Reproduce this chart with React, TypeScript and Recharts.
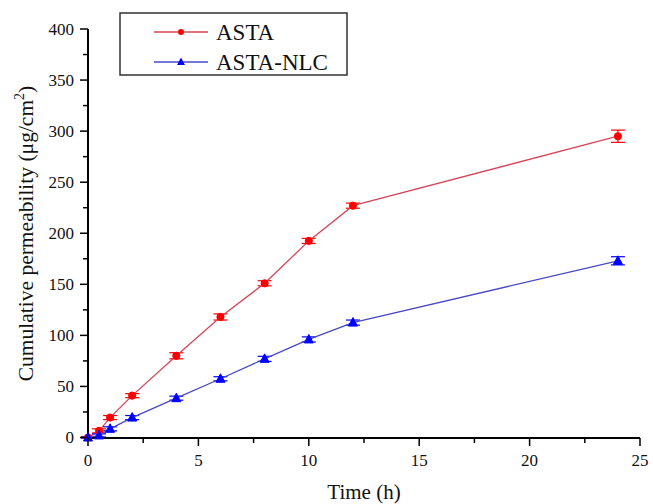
import React from "react";
import { LineChart, Line, XAxis, YAxis, ErrorBar, Legend } from "recharts";

const times = [0, 0.5, 1, 2, 4, 6, 8, 10, 12, 24];
const astaValues = [0, 6.5, 19.5, 41, 80, 118, 151, 192.5, 227, 295];
const astaErrors = [0.5, 2, 2, 2, 3, 3, 2.5, 2.5, 2.5, 6];
const nlcValues = [0, 2, 8.5, 19.5, 38.5, 57.5, 77, 96, 112.5, 173];
const nlcErrors = [0.5, 1.5, 2, 2, 2, 2, 2.5, 2.5, 2.5, 4];
const seriesNames = ["ASTA", "ASTA-NLC"];
const xTicks = [0, 2.5, 5, 7.5, 10, 12.5, 15, 17.5, 20, 22.5, 25];
const yTicks = [0, 25, 50, 75, 100, 125, 150, 175, 200, 225, 250, 275, 300, 325, 350, 375, 400];

const data = times.map((t, i) => ({
  t,
  asta: astaValues[i],
  astaErr: astaErrors[i],
  nlc: nlcValues[i],
  nlcErr: nlcErrors[i],
}));

const RED_LINE = "#d6455a";
const RED = "#ff0000";
const BLUE_LINE = "#4848c8";
const BLUE = "#0000ff";
const SERIF = '"Liberation Serif", "Times New Roman", serif';

const XTick = (props: any) => {
  const { x, y, payload } = props;
  const major = payload.value % 5 === 0;
  return (
    <g>
      <line x1={x} x2={x} y1={y} y2={y + (major ? 8 : 5)} stroke="#000" strokeWidth={1.5} />
      {major && (
        <text x={x} y={y + 28} textAnchor="middle" fontFamily={SERIF} fontSize={17} fill="#111">
          {payload.value}
        </text>
      )}
    </g>
  );
};

const YTick = (props: any) => {
  const { x, y, payload } = props;
  const major = payload.value % 50 === 0;
  return (
    <g>
      <line x1={x} x2={x - (major ? 8 : 5)} y1={y} y2={y} stroke="#000" strokeWidth={1.5} />
      {major && (
        <text x={x - 14} y={y + 6} textAnchor="end" fontFamily={SERIF} fontSize={17} fill="#111">
          {payload.value}
        </text>
      )}
    </g>
  );
};

const RedDot = (props: any) => {
  const { cx, cy, index } = props;
  if (cx == null || cy == null) return <g key={`r${index}`} />;
  return <circle key={`r${index}`} cx={cx} cy={cy} r={3.6} fill={RED} stroke={RED} />;
};

const BlueDot = (props: any) => {
  const { cx, cy, index } = props;
  if (cx == null || cy == null) return <g key={`b${index}`} />;
  return (
    <polygon
      key={`b${index}`}
      points={`${cx},${cy - 5} ${cx - 4.5},${cy + 3.5} ${cx + 4.5},${cy + 3.5}`}
      fill={BLUE}
      stroke={BLUE}
    />
  );
};

const LegendContent = () => {
  const rows = [
    { name: seriesNames[0], line: RED_LINE, color: RED, kind: "circle" },
    { name: seriesNames[1], line: BLUE_LINE, color: BLUE, kind: "tri" },
  ];
  return (
    <svg width={230} height={65} style={{ display: "block" }}>
      <rect x={1} y={1} width={227} height={62} fill="#fff" stroke="#333" strokeWidth={1.5} />
      {rows.map((r, i) => {
        const cy = 20 + i * 30;
        const cx = 62;
        return (
          <g key={r.name}>
            <line x1={35} x2={89} y1={cy} y2={cy} stroke={r.line} strokeWidth={1.3} />
            {r.kind === "circle" ? (
              <circle cx={cx} cy={cy} r={3} fill={r.color} />
            ) : (
              <polygon points={`${cx},${cy - 4.5} ${cx - 4},${cy + 3} ${cx + 4},${cy + 3}`} fill={r.color} />
            )}
            <text x={97} y={cy + 8} fontFamily={SERIF} fontSize={23} fill="#111">
              {r.name}
            </text>
          </g>
        );
      })}
    </svg>
  );
};

const YLabel = (props: any) => {
  const vb = props.viewBox || { x: 0, y: 29, width: 88, height: 409 };
  const cx = vb.x + 33;
  const cy = vb.y + vb.height / 2;
  return (
    <text
      x={cx}
      y={cy}
      transform={`rotate(-90, ${cx}, ${cy})`}
      textAnchor="middle"
      fontFamily={SERIF}
      fontSize={21.5}
      fill="#111"
    >
      Cumulative permeability (μg/cm
      <tspan dy={-9} fontSize={14}>2</tspan>
      <tspan dy={9}>)</tspan>
    </text>
  );
};

const XLabel = (props: any) => {
  const vb = props.viewBox || { x: 88, y: 438, width: 552, height: 66 };
  return (
    <text x={vb.x + vb.width / 2} y={vb.y + 61} textAnchor="middle" fontFamily={SERIF} fontSize={21} fill="#111">
      Time (h)
    </text>
  );
};

export default function App() {
  return (
    <div style={{ position: "absolute", left: 0, top: 0, width: 653, height: 504, background: "#fff" }}>
      <LineChart width={653} height={504} data={data} margin={{ top: 29, right: 13, bottom: 0, left: 0 }}>
        <XAxis
          dataKey="t"
          type="number"
          domain={[0, 25]}
          ticks={xTicks}
          interval={0}
          tickSize={0}
          tickMargin={0}
          tickLine={false}
          tick={(p: any) => <XTick {...p} />}
          axisLine={{ stroke: "#000", strokeWidth: 2 }}
          height={66}
          label={<XLabel />}
        />
        <YAxis
          type="number"
          domain={[0, 400]}
          ticks={yTicks}
          interval={0}
          tickSize={0}
          tickMargin={0}
          tickLine={false}
          tick={(p: any) => <YTick {...p} />}
          axisLine={{ stroke: "#000", strokeWidth: 2 }}
          width={88}
          label={<YLabel />}
        />
        <Legend
          layout="vertical"
          align="center"
          verticalAlign="middle"
          content={<LegendContent />}
          wrapperStyle={{ left: 119, top: 12, width: 230, height: 65 }}
        />
        <Line
          name={seriesNames[0]}
          dataKey="asta"
          stroke={RED_LINE}
          strokeWidth={1.3}
          dot={RedDot}
          activeDot={false}
          isAnimationActive={false}
        >
          <ErrorBar dataKey="astaErr" direction="y" width={7} stroke={RED} strokeWidth={1.2} />
        </Line>
        <Line
          name={seriesNames[1]}
          dataKey="nlc"
          stroke={BLUE_LINE}
          strokeWidth={1.3}
          dot={BlueDot}
          activeDot={false}
          isAnimationActive={false}
        >
          <ErrorBar dataKey="nlcErr" direction="y" width={7} stroke={BLUE} strokeWidth={1.2} />
        </Line>
      </LineChart>
    </div>
  );
}
